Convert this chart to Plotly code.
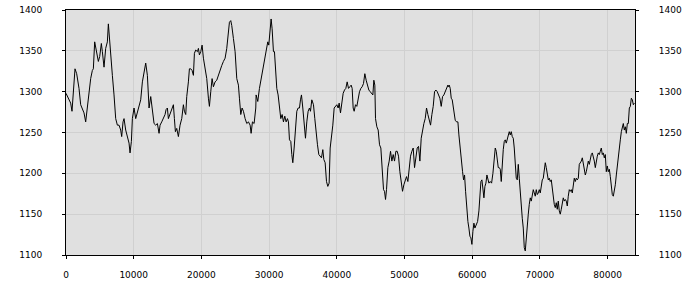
import plotly.graph_objects as go

seg1_x = [0, 443, 690, 887, 1084, 1330, 1577, 1774, 1922, 2168, 2414, 2660, 2907, 3153, 3400, 3646, 3892, 4040, 4237, 4385,
          4631, 4779, 4976, 5222, 5370, 5617, 5863, 6109, 6257, 6454, 6602, 6848, 7095, 7341, 7587, 7834, 8080, 8228, 8425, 8573,
          8819, 9066, 9312, 9460, 9657, 9804, 10051, 10297, 10543, 10789, 11036, 11282, 11528, 11775, 12021, 12268, 12514, 12760,
          13006, 13253, 13499, 13746]
seg1_y = [1298, 1290, 1286, 1276, 1304, 1328, 1322, 1314, 1304, 1284, 1278, 1274, 1263, 1280, 1300, 1316, 1326, 1328, 1361, 1353,
          1341, 1337, 1343, 1359, 1349, 1330, 1353, 1361, 1383, 1365, 1345, 1320, 1296, 1267, 1259, 1259, 1253, 1245, 1263, 1267,
          1253, 1245, 1237, 1225, 1239, 1267, 1280, 1267, 1274, 1284, 1290, 1312, 1324, 1335, 1320, 1280, 1294, 1276, 1261, 1259,
          1261, 1249]

seg2_x = [13893, 14139, 14386, 14632, 14780, 14977, 15125, 15371, 15617, 15864, 16012, 16160, 16357, 16603, 16849, 17096, 17342,
          17490, 17687, 17835, 18081, 18229, 18426, 18623, 18820, 18968, 19165, 19411, 19559, 19707, 19904, 20101, 20298, 20544,
          20791, 21037, 21185, 21382, 21579, 21776, 22023, 22269, 22515, 22762, 23008, 23254, 23501, 23747, 23993, 24141, 24338,
          24486, 24732, 24979, 25225, 25471, 25619, 25816, 26013, 26211, 26457, 26703, 26950, 27196, 27344, 27541, 27787, 28034]
seg2_y = [1259, 1263, 1267, 1272, 1278, 1280, 1267, 1272, 1278, 1284, 1267, 1251, 1255, 1245, 1259, 1267, 1284, 1276, 1272, 1294,
          1312, 1328, 1328, 1326, 1320, 1347, 1351, 1349, 1353, 1345, 1349, 1357, 1341, 1328, 1316, 1292, 1282, 1300, 1316, 1306,
          1312, 1314, 1320, 1328, 1332, 1337, 1341, 1353, 1373, 1385, 1387, 1381, 1365, 1349, 1316, 1308, 1292, 1272, 1280, 1276,
          1267, 1261, 1263, 1259, 1249, 1263, 1261, 1280]

seg3_x = [28082, 28328, 28575, 28772, 28969, 29166, 29412, 29659, 29806, 29954, 30151, 30299, 30447, 30644, 30792, 30940, 31137,
          31334, 31531, 31728, 31925, 32122, 32319, 32516, 32713, 32861, 33009, 33206, 33354, 33502, 33699, 33896, 34093, 34290,
          34487, 34635, 34783, 34980, 35177, 35374, 35571, 35768, 35965, 36113, 36310, 36556, 36753, 36951, 37148, 37345, 37542,
          37739, 37936, 38084, 38281, 38478, 38675, 38872, 39020, 39217, 39414, 39611, 39808, 40005, 40202, 40350, 40547, 40744,
          40941, 41138, 41336, 41533, 41730, 41927, 42124]
seg3_y = [1296, 1288, 1304, 1314, 1324, 1332, 1343, 1357, 1361, 1357, 1381, 1389, 1377, 1349, 1349, 1328, 1304, 1296, 1280, 1267,
          1272, 1263, 1270, 1263, 1267, 1263, 1241, 1239, 1223, 1213, 1231, 1255, 1276, 1280, 1280, 1290, 1296, 1280, 1263, 1243,
          1263, 1276, 1280, 1276, 1290, 1284, 1267, 1247, 1235, 1223, 1221, 1219, 1229, 1217, 1213, 1190, 1184, 1188, 1231, 1243,
          1259, 1280, 1282, 1284, 1280, 1286, 1274, 1288, 1298, 1302, 1304, 1312, 1304, 1306, 1308]

seg4_x = [42271, 42419, 42567, 42764, 42961, 43158, 43355, 43552, 43749, 43946, 44143, 44340, 44537, 44735, 44932, 45129, 45326,
          45474, 45621, 45720, 45917, 46114, 46311, 46508, 46705, 46902, 47050, 47198, 47346, 47543, 47740, 47937, 48134, 48331,
          48528, 48725, 48922, 49119, 49317, 49514, 49711, 49908, 50105, 50302, 50499, 50696, 50893, 51090, 51287, 51484, 51681,
          51878, 52076, 52273, 52470, 52667, 52864, 53061, 53258, 53455, 53652, 53849, 54046, 54243, 54440, 54638, 54835, 55032,
          55229, 55426, 55623, 55820, 56017, 56214, 56411]
seg4_y = [1304, 1280, 1276, 1284, 1282, 1292, 1300, 1304, 1306, 1310, 1322, 1314, 1308, 1302, 1300, 1298, 1296, 1314, 1308, 1267,
          1257, 1253, 1235, 1231, 1211, 1180, 1178, 1168, 1180, 1207, 1215, 1227, 1215, 1223, 1215, 1227, 1227, 1221, 1202, 1190,
          1178, 1186, 1190, 1196, 1190, 1207, 1221, 1227, 1231, 1207, 1223, 1231, 1233, 1215, 1243, 1255, 1261, 1267, 1280, 1272,
          1267, 1259, 1272, 1282, 1300, 1302, 1300, 1296, 1292, 1282, 1294, 1296, 1300, 1302, 1308]

seg5_x = [56460, 56608, 56756, 56903, 57051, 57199, 57347, 57495, 57692, 57889, 58037, 58234, 58431, 58579, 58726, 58874, 59022,
          59170, 59367, 59515, 59663, 59810, 59958, 60106, 60254, 60402, 60599, 60796, 60993, 61141, 61288, 61436, 61584, 61732,
          61880, 62028, 62175, 62323, 62471, 62668, 62865, 63062, 63259, 63407, 63555, 63703, 63851, 63998, 64146, 64294, 64442,
          64590, 64737, 64885, 65033, 65181, 65329, 65476, 65624, 65772, 65920, 66068, 66215, 66363, 66511, 66659, 66807, 66955,
          67102, 67250, 67398, 67546, 67694, 67841, 67989, 68137, 68285, 68433, 68580, 68728, 68876, 69024, 69172, 69319, 69467,
          69615, 69763, 69911, 70058, 70206, 70354, 70502]
seg5_y = [1306, 1308, 1304, 1292, 1290, 1280, 1272, 1265, 1263, 1263, 1247, 1227, 1215, 1202, 1192, 1198, 1178, 1158, 1141, 1133,
          1123, 1121, 1113, 1129, 1139, 1133, 1137, 1141, 1154, 1174, 1190, 1192, 1178, 1170, 1184, 1188, 1198, 1194, 1188, 1190,
          1188, 1200, 1215, 1231, 1227, 1215, 1207, 1207, 1205, 1190, 1215, 1229, 1239, 1241, 1237, 1243, 1249, 1251, 1247, 1251,
          1245, 1243, 1231, 1217, 1194, 1192, 1211, 1194, 1174, 1162, 1145, 1133, 1109, 1105, 1125, 1139, 1150, 1162, 1170, 1166,
          1174, 1180, 1176, 1172, 1180, 1174, 1176, 1180, 1176, 1186, 1192, 1194]

seg6_x = [70648, 70796, 70944, 71091, 71239, 71387, 71535, 71683, 71830, 71978, 72126, 72274, 72422, 72570, 72717, 72865, 73013,
          73161, 73309, 73456, 73604, 73752, 73900, 74048, 74195, 74343, 74491, 74639, 74787, 74935, 75082, 75230, 75378, 75526,
          75674, 75821, 75969, 76117, 76265, 76413, 76560, 76708, 76856, 77004, 77152, 77300, 77447, 77595, 77743, 77891, 78039,
          78186, 78334, 78482, 78630, 78778, 78925, 79073, 79221, 79369, 79517, 79665, 79812, 79960, 80108, 80256, 80404, 80551,
          80699, 80847, 80995, 81143, 81290, 81438, 81586, 81734, 81882, 82030, 82177, 82325, 82473, 82621, 82769, 82916, 83064,
          83212, 83360, 83508, 83655, 83803, 83951]
seg6_y = [1207, 1213, 1207, 1198, 1192, 1194, 1190, 1192, 1182, 1168, 1162, 1158, 1164, 1156, 1166, 1154, 1150, 1156, 1166, 1170,
          1166, 1168, 1166, 1160, 1172, 1180, 1178, 1180, 1176, 1188, 1194, 1190, 1194, 1192, 1194, 1211, 1213, 1215, 1219, 1211,
          1205, 1198, 1202, 1207, 1215, 1211, 1219, 1223, 1225, 1221, 1215, 1207, 1217, 1221, 1225, 1223, 1227, 1231, 1223, 1225,
          1219, 1223, 1202, 1209, 1202, 1205, 1196, 1182, 1174, 1172, 1178, 1186, 1198, 1211, 1223, 1235, 1241, 1251, 1255, 1261,
          1253, 1257, 1249, 1261, 1261, 1280, 1282, 1292, 1290, 1284, 1286]

segments = [(seg1_x, seg1_y), (seg2_x, seg2_y), (seg3_x, seg3_y), (seg4_x, seg4_y), (seg5_x, seg5_y), (seg6_x, seg6_y)]
for i, (sx, sy) in enumerate(segments):
    assert len(sx) == len(sy), f"segment {i+1}: {len(sx)} x vs {len(sy)} y"

x_vals = [v for sx, _ in segments for v in sx]
y_vals = [v for _, sy in segments for v in sy]

x_ticks = [0, 10000, 20000, 30000, 40000, 50000, 60000, 70000, 80000]
y_ticks = [1100, 1150, 1200, 1250, 1300, 1350, 1400]

font = dict(family="DejaVu Sans", size=9, color="#000000")

fig = go.Figure()
fig.add_trace(go.Scatter(x=x_vals, y=y_vals, mode="lines",
                         line=dict(color="#000000", width=1), showlegend=False, hoverinfo="skip"))
fig.add_trace(go.Scatter(x=x_vals, y=y_vals, mode="lines", yaxis="y2", opacity=0,
                         line=dict(color="#000000", width=1), showlegend=False, hoverinfo="skip"))

fig.update_layout(
    width=700, height=300,
    margin=dict(l=66, r=65, t=10, b=45),
    paper_bgcolor="#ffffff",
    plot_bgcolor="#e0e0e0",
    font=font,
    xaxis=dict(range=[0, 84050], tickvals=x_ticks, ticktext=[str(t) for t in x_ticks],
               showgrid=True, gridcolor="#d0d0d0", gridwidth=1, zeroline=False,
               showline=True, linecolor="#000000", linewidth=1, mirror=True,
               ticks="outside", ticklen=3, tickcolor="#000000", tickfont=font,
               ticklabelstandoff=8, automargin=False),
    yaxis=dict(range=[1100, 1400], tickvals=y_ticks, showgrid=True, gridcolor="#d0d0d0", gridwidth=1,
               zeroline=False, showline=True, linecolor="#000000", linewidth=1,
               ticks="outside", ticklen=3, tickcolor="#000000", tickfont=font,
               ticklabelstandoff=18, automargin=False),
    yaxis2=dict(range=[1100, 1400], tickvals=y_ticks, overlaying="y", side="right", showgrid=False,
                zeroline=False, showline=True, linecolor="#000000", linewidth=1,
                ticks="outside", ticklen=3, tickcolor="#000000", tickfont=font,
                ticklabelstandoff=18, automargin=False),
)

fig.write_html("out.html")
